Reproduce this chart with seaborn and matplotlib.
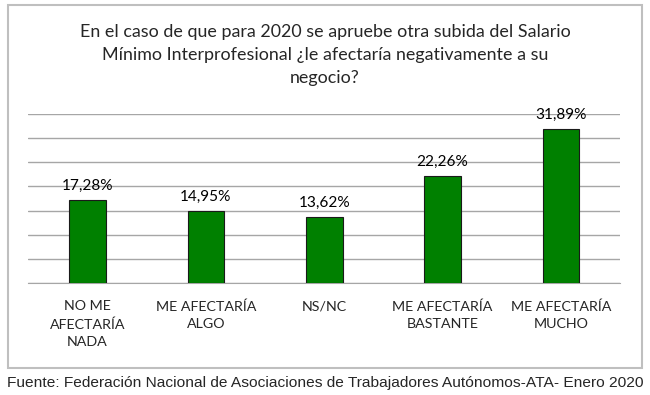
import matplotlib
matplotlib.use("Agg")
import matplotlib.pyplot as plt
import seaborn as sns
import pandas as pd
from matplotlib.patches import Rectangle

categories = ["NO ME\nAFECTARÍA\nNADA", "ME AFECTARÍA\nALGO", "NS/NC",
              "ME AFECTARÍA\nBASTANTE", "ME AFECTARÍA\nMUCHO"]
values = [17.28, 14.95, 13.62, 22.26, 31.89]
labels = ["17,28%", "14,95%", "13,62%", "22,26%", "31,89%"]

df = pd.DataFrame({"cat": categories, "val": values})

sns.set_style("white")
plt.rcParams['font.family'] = ['Lato', 'DejaVu Sans']

fig = plt.figure(figsize=(6.5, 3.95), dpi=100)
ax = fig.add_axes([0.0437, 0.2835, 0.9103, 0.4279])

sns.barplot(data=df, x="cat", y="val", color="#008000", saturation=1,
            width=0.31, edgecolor="#1a1a1a", linewidth=0.8, ax=ax, zorder=3)

ax.set_ylim(0, 35)
ax.set_yticks(range(0, 36, 5))
ax.yaxis.grid(True, color="#a6a6a6", linewidth=1)
ax.set_axisbelow(True)
ax.tick_params(left=False, labelleft=False, bottom=False, pad=9)
for s in ["top", "right", "left"]:
    ax.spines[s].set_visible(False)
ax.spines["bottom"].set_color("#a6a6a6")
ax.set_xlabel("")
ax.set_ylabel("")
for t in ax.get_xticklabels():
    t.set_fontsize(10.3)
    t.set_linespacing(1.56)

for i, (v, lab) in enumerate(zip(values, labels)):
    ax.annotate(lab, (i, v), xytext=(0, 5), textcoords="offset points",
                ha="center", va="bottom", fontsize=11.1, color="#000000")

fig.text(0.5, 1 - 55 / 395, "En el caso de que para 2020 se apruebe otra subida del Salario\n"
         "Mínimo Interprofesional ¿le afectaría negativamente a su\nnegocio?",
         ha="center", va="center", fontsize=12.9, linespacing=1.5)

fig.patches.append(Rectangle((8 / 650, 1 - 368 / 395), 634 / 650, 363 / 395,
                             transform=fig.transFigure, fill=False,
                             edgecolor="#bfbfbf", linewidth=1.5))

fig.text(0.5, 1 - 383 / 395,
         "Fuente: Federación Nacional de Asociaciones de Trabajadores Autónomos-ATA- Enero 2020",
         ha="center", va="center", fontsize=11.15, family=["Liberation Sans", "DejaVu Sans"])

fig.savefig("out.png", dpi=100)
